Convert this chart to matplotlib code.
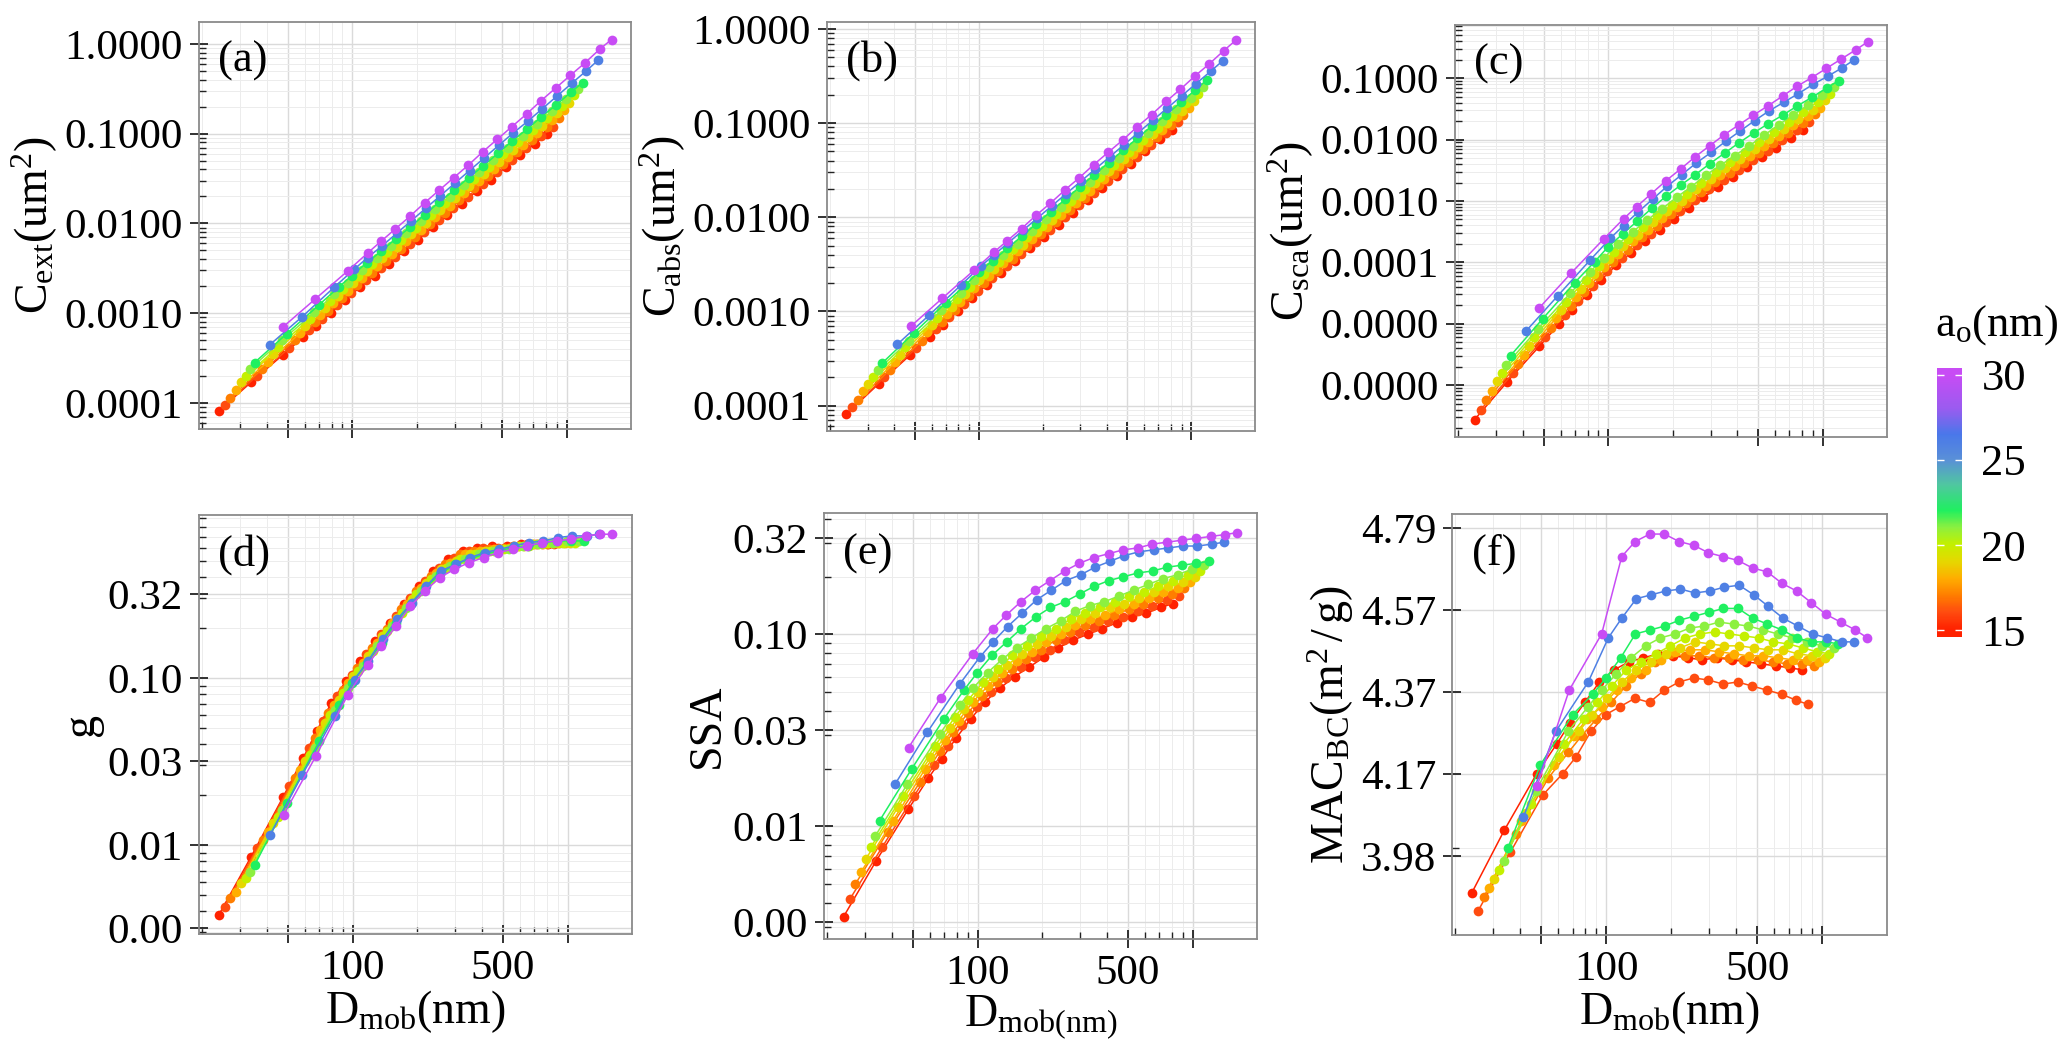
import numpy as np
import matplotlib
matplotlib.use('Agg')
import matplotlib.pyplot as plt
from matplotlib.colors import LinearSegmentedColormap
from matplotlib.ticker import FixedLocator, FixedFormatter, NullFormatter, LogLocator

plt.rcParams['font.family'] = ['Liberation Serif', 'DejaVu Serif']
plt.rcParams['mathtext.fontset'] = 'custom'
plt.rcParams['mathtext.rm'] = 'Liberation Serif'
plt.rcParams['mathtext.it'] = 'Liberation Serif:italic'
plt.rcParams['mathtext.bf'] = 'Liberation Serif:bold'

# monomer radius of each curve (nm)
a_o = [15, 16, 17, 18, 19, 20, 21, 22, 26, 30]

# mobility diameter of every point, one row per a_o (nm)
d_mob = [
    [23.8, 33.7, 47.6, 58.9, 67.9, 79.5, 92.9, 108.7, 127.1, 148.6, 173.9, 203.3, 237.8, 278.0, 325.2, 380.3, 444.8, 520.1, 608.3, 711.3, 809.3],
    [25.4, 35.9, 50.7, 62.8, 72.5, 84.8, 99.1, 115.9, 135.6, 158.5, 185.4, 216.8, 253.6, 296.5, 346.9, 405.6, 474.4, 554.7, 648.8, 758.7, 863.2],
    [27.0, 38.1, 53.9, 66.7, 77.0, 90.0, 105.3, 123.1, 144.0, 168.4, 197.0, 230.4, 269.5, 315.0, 368.6, 431.0, 504.1, 589.4, 689.4, 806.1, 917.2],
    [28.6, 40.4, 57.1, 70.7, 81.5, 95.3, 111.5, 130.4, 152.5, 178.3, 208.6, 243.9, 285.3, 333.5, 390.2, 456.3, 533.7, 624.1, 729.9, 853.6, 971.1],
    [30.2, 42.6, 60.2, 74.6, 86.1, 100.6, 117.7, 137.6, 161.0, 188.3, 220.2, 257.5, 301.2, 352.1, 411.9, 481.7, 563.4, 658.7, 770.5, 901.0, 1025.1],
    [31.8, 44.9, 63.4, 78.5, 90.6, 105.9, 123.9, 144.9, 169.4, 198.2, 231.8, 271.0, 317.0, 370.6, 433.6, 507.0, 593.0, 693.4, 811.0, 948.4, 1079.0],
    [33.4, 47.1, 66.6, 82.4, 95.1, 111.2, 130.1, 152.1, 177.9, 208.1, 243.4, 284.6, 332.9, 389.1, 455.3, 532.4, 622.7, 728.1, 851.6, 995.8, 1133.0],
    [35.0, 49.4, 69.7, 86.4, 99.6, 116.5, 136.3, 159.4, 186.4, 218.0, 255.0, 298.1, 348.7, 407.7, 477.0, 557.7, 652.3, 762.7, 892.1, 1043.0, 1187.0],
    [41.3, 58.3, 82.4, 102.1, 117.8, 137.7, 161.0, 188.3, 220.3, 257.6, 301.3, 352.3, 412.1, 481.8, 563.7, 659.1, 770.9, 901.4, 1054.0, 1233.0, 1403.0],
    [47.7, 67.3, 95.1, 117.8, 135.9, 158.9, 185.8, 217.3, 254.2, 297.2, 347.7, 406.5, 475.5, 555.9, 650.4, 760.5, 889.5, 1040.0, 1217.0, 1423.0, 1619.0],
]

# log10 of C_ext (um^2)
log_cext = [
    [-4.09, -3.77, -3.46, -3.27, -3.14, -3.00, -2.85, -2.71, -2.58, -2.45, -2.31, -2.18, -2.04, -1.91, -1.78, -1.64, -1.51, -1.37, -1.24, -1.11, -1.00],
    [-4.02, -3.70, -3.39, -3.19, -3.06, -2.91, -2.77, -2.63, -2.50, -2.37, -2.23, -2.10, -1.96, -1.83, -1.70, -1.56, -1.43, -1.29, -1.16, -1.03, -0.92],
    [-3.94, -3.62, -3.30, -3.10, -2.97, -2.83, -2.69, -2.55, -2.42, -2.28, -2.15, -2.01, -1.88, -1.74, -1.61, -1.47, -1.34, -1.20, -1.07, -0.93, -0.82],
    [-3.85, -3.54, -3.22, -3.02, -2.89, -2.75, -2.61, -2.47, -2.34, -2.20, -2.07, -1.93, -1.80, -1.66, -1.53, -1.39, -1.26, -1.12, -0.99, -0.85, -0.74],
    [-3.77, -3.45, -3.14, -2.94, -2.81, -2.66, -2.53, -2.39, -2.26, -2.12, -1.99, -1.85, -1.72, -1.58, -1.45, -1.31, -1.18, -1.04, -0.91, -0.77, -0.66],
    [-3.70, -3.38, -3.06, -2.86, -2.73, -2.59, -2.45, -2.32, -2.18, -2.05, -1.91, -1.77, -1.64, -1.50, -1.37, -1.23, -1.09, -0.96, -0.82, -0.69, -0.57],
    [-3.62, -3.30, -2.99, -2.79, -2.66, -2.52, -2.38, -2.25, -2.11, -1.97, -1.84, -1.70, -1.57, -1.43, -1.29, -1.16, -1.02, -0.89, -0.75, -0.61, -0.50],
    [-3.55, -3.23, -2.91, -2.71, -2.58, -2.44, -2.31, -2.17, -2.04, -1.90, -1.76, -1.63, -1.49, -1.36, -1.22, -1.08, -0.95, -0.81, -0.68, -0.54, -0.43],
    [-3.35, -3.04, -2.71, -2.51, -2.38, -2.25, -2.11, -1.97, -1.83, -1.69, -1.55, -1.41, -1.27, -1.13, -0.99, -0.86, -0.72, -0.58, -0.44, -0.30, -0.18],
    [-3.15, -2.84, -2.53, -2.33, -2.20, -2.06, -1.92, -1.77, -1.63, -1.49, -1.35, -1.20, -1.06, -0.92, -0.78, -0.63, -0.49, -0.35, -0.21, -0.06, 0.05],
]

# log10 of C_abs (um^2)
log_cabs = [
    [-4.09, -3.77, -3.46, -3.27, -3.14, -3.00, -2.86, -2.72, -2.59, -2.46, -2.33, -2.21, -2.08, -1.95, -1.82, -1.69, -1.56, -1.43, -1.30, -1.17, -1.07],
    [-4.02, -3.70, -3.39, -3.19, -3.06, -2.92, -2.78, -2.65, -2.52, -2.39, -2.26, -2.13, -2.00, -1.87, -1.74, -1.61, -1.49, -1.36, -1.23, -1.10, -0.99],
    [-3.94, -3.62, -3.31, -3.11, -2.98, -2.84, -2.70, -2.57, -2.44, -2.31, -2.18, -2.05, -1.92, -1.79, -1.66, -1.54, -1.41, -1.28, -1.15, -1.02, -0.91],
    [-3.85, -3.54, -3.22, -3.03, -2.90, -2.75, -2.62, -2.49, -2.36, -2.23, -2.10, -1.98, -1.85, -1.72, -1.59, -1.46, -1.33, -1.20, -1.07, -0.94, -0.84],
    [-3.77, -3.46, -3.14, -2.95, -2.82, -2.67, -2.55, -2.42, -2.29, -2.16, -2.03, -1.90, -1.77, -1.64, -1.51, -1.38, -1.25, -1.12, -1.00, -0.87, -0.76],
    [-3.70, -3.38, -3.07, -2.87, -2.74, -2.60, -2.47, -2.34, -2.21, -2.09, -1.96, -1.83, -1.70, -1.57, -1.44, -1.31, -1.18, -1.05, -0.92, -0.79, -0.69],
    [-3.62, -3.31, -2.99, -2.80, -2.67, -2.53, -2.40, -2.28, -2.15, -2.02, -1.89, -1.76, -1.63, -1.50, -1.37, -1.24, -1.11, -0.98, -0.85, -0.73, -0.62],
    [-3.55, -3.23, -2.91, -2.72, -2.58, -2.46, -2.33, -2.20, -2.07, -1.94, -1.81, -1.68, -1.55, -1.42, -1.29, -1.16, -1.03, -0.91, -0.78, -0.65, -0.54],
    [-3.35, -3.04, -2.72, -2.52, -2.40, -2.27, -2.14, -2.01, -1.88, -1.75, -1.62, -1.49, -1.36, -1.23, -1.10, -0.97, -0.84, -0.71, -0.58, -0.45, -0.34],
    [-3.16, -2.86, -2.56, -2.37, -2.25, -2.12, -1.98, -1.85, -1.71, -1.58, -1.44, -1.31, -1.18, -1.04, -0.91, -0.77, -0.64, -0.50, -0.37, -0.23, -0.12],
]

# log10 of C_sca (um^2)
log_csca = [
    [-6.56, -5.95, -5.37, -5.01, -4.78, -4.53, -4.28, -4.05, -3.85, -3.65, -3.47, -3.30, -3.11, -2.94, -2.78, -2.61, -2.45, -2.28, -2.13, -1.97, -1.84],
    [-6.40, -5.81, -5.22, -4.86, -4.63, -4.38, -4.14, -3.93, -3.72, -3.53, -3.35, -3.17, -2.99, -2.81, -2.65, -2.49, -2.34, -2.18, -2.01, -1.85, -1.72],
    [-6.24, -5.65, -5.07, -4.71, -4.48, -4.23, -4.00, -3.80, -3.59, -3.41, -3.22, -3.04, -2.86, -2.69, -2.54, -2.38, -2.22, -2.05, -1.89, -1.73, -1.59],
    [-6.09, -5.51, -4.91, -4.57, -4.34, -4.08, -3.87, -3.66, -3.47, -3.28, -3.10, -2.93, -2.75, -2.58, -2.43, -2.27, -2.10, -1.94, -1.77, -1.62, -1.48],
    [-5.94, -5.36, -4.77, -4.43, -4.19, -3.95, -3.74, -3.55, -3.35, -3.17, -3.00, -2.81, -2.64, -2.47, -2.31, -2.15, -1.99, -1.82, -1.67, -1.51, -1.36],
    [-5.81, -5.21, -4.64, -4.28, -4.06, -3.83, -3.62, -3.42, -3.23, -3.06, -2.88, -2.70, -2.53, -2.37, -2.20, -2.04, -1.88, -1.72, -1.55, -1.38, -1.26],
    [-5.67, -5.08, -4.50, -4.15, -3.93, -3.70, -3.50, -3.31, -3.13, -2.94, -2.77, -2.58, -2.42, -2.26, -2.10, -1.93, -1.76, -1.60, -1.44, -1.28, -1.15],
    [-5.52, -4.92, -4.33, -3.99, -3.75, -3.54, -3.33, -3.12, -2.92, -2.74, -2.57, -2.39, -2.22, -2.05, -1.89, -1.74, -1.60, -1.45, -1.31, -1.16, -1.04],
    [-5.12, -4.54, -3.96, -3.61, -3.40, -3.18, -2.97, -2.76, -2.57, -2.38, -2.21, -2.03, -1.86, -1.69, -1.53, -1.39, -1.25, -1.10, -0.97, -0.83, -0.70],
    [-4.74, -4.17, -3.62, -3.29, -3.09, -2.88, -2.67, -2.48, -2.28, -2.10, -1.92, -1.76, -1.60, -1.45, -1.29, -1.13, -0.99, -0.84, -0.69, -0.54, -0.41],
]

# log10 of asymmetry parameter g
log_g = [
    [-2.42, -2.07, -1.71, -1.48, -1.32, -1.15, -1.02, -0.90, -0.78, -0.67, -0.56, -0.45, -0.36, -0.29, -0.24, -0.22, -0.21, -0.21, -0.20, -0.20, -0.20],
    [-2.37, -2.02, -1.65, -1.42, -1.26, -1.11, -0.98, -0.86, -0.74, -0.63, -0.52, -0.42, -0.34, -0.28, -0.24, -0.22, -0.22, -0.21, -0.20, -0.20, -0.20],
    [-2.32, -1.97, -1.60, -1.36, -1.21, -1.07, -0.94, -0.82, -0.71, -0.59, -0.48, -0.39, -0.32, -0.26, -0.24, -0.23, -0.22, -0.21, -0.20, -0.20, -0.19],
    [-2.28, -1.92, -1.55, -1.31, -1.16, -1.03, -0.91, -0.79, -0.67, -0.56, -0.46, -0.37, -0.31, -0.26, -0.24, -0.23, -0.22, -0.21, -0.20, -0.19, -0.19],
    [-2.23, -1.87, -1.50, -1.27, -1.13, -0.99, -0.87, -0.75, -0.64, -0.53, -0.43, -0.35, -0.30, -0.26, -0.24, -0.23, -0.21, -0.21, -0.20, -0.19, -0.19],
    [-2.20, -1.83, -1.46, -1.22, -1.09, -0.96, -0.84, -0.72, -0.61, -0.50, -0.41, -0.34, -0.29, -0.26, -0.24, -0.23, -0.21, -0.20, -0.19, -0.19, -0.19],
    [-2.16, -1.79, -1.42, -1.19, -1.06, -0.93, -0.81, -0.69, -0.58, -0.48, -0.39, -0.33, -0.29, -0.26, -0.24, -0.23, -0.21, -0.20, -0.19, -0.18, -0.18],
    [-2.12, -1.75, -1.38, -1.16, -1.03, -0.91, -0.79, -0.67, -0.56, -0.46, -0.38, -0.32, -0.29, -0.26, -0.24, -0.22, -0.21, -0.19, -0.18, -0.18, -0.18],
    [-1.94, -1.58, -1.23, -1.01, -0.90, -0.77, -0.65, -0.55, -0.45, -0.36, -0.32, -0.28, -0.25, -0.23, -0.21, -0.19, -0.18, -0.16, -0.15, -0.15, -0.14],
    [-1.82, -1.47, -1.10, -0.92, -0.81, -0.69, -0.57, -0.48, -0.40, -0.35, -0.31, -0.28, -0.25, -0.23, -0.21, -0.19, -0.18, -0.17, -0.15, -0.14, -0.14],
]

# log10 of single scattering albedo
log_ssa = [
    [-2.47, -2.18, -1.91, -1.75, -1.65, -1.54, -1.44, -1.35, -1.28, -1.22, -1.17, -1.12, -1.07, -1.03, -1.00, -0.97, -0.94, -0.91, -0.89, -0.86, -0.84],
    [-2.38, -2.11, -1.84, -1.68, -1.58, -1.47, -1.38, -1.30, -1.23, -1.17, -1.12, -1.08, -1.03, -0.99, -0.96, -0.93, -0.91, -0.88, -0.85, -0.82, -0.80],
    [-2.30, -2.03, -1.77, -1.61, -1.51, -1.41, -1.32, -1.25, -1.18, -1.13, -1.08, -1.03, -0.99, -0.95, -0.93, -0.90, -0.87, -0.84, -0.81, -0.79, -0.76],
    [-2.24, -1.97, -1.70, -1.55, -1.45, -1.35, -1.27, -1.20, -1.14, -1.09, -1.04, -1.00, -0.95, -0.92, -0.90, -0.87, -0.84, -0.81, -0.78, -0.76, -0.73],
    [-2.17, -1.90, -1.64, -1.49, -1.39, -1.30, -1.22, -1.16, -1.10, -1.05, -1.01, -0.96, -0.92, -0.89, -0.86, -0.84, -0.81, -0.78, -0.75, -0.73, -0.70],
    [-2.11, -1.84, -1.58, -1.43, -1.34, -1.25, -1.18, -1.11, -1.06, -1.01, -0.97, -0.92, -0.89, -0.86, -0.83, -0.80, -0.78, -0.75, -0.72, -0.69, -0.67],
    [-2.05, -1.78, -1.52, -1.37, -1.28, -1.20, -1.13, -1.07, -1.02, -0.97, -0.93, -0.88, -0.85, -0.83, -0.80, -0.77, -0.74, -0.71, -0.69, -0.66, -0.64],
    [-1.97, -1.70, -1.44, -1.29, -1.20, -1.11, -1.04, -0.97, -0.91, -0.86, -0.83, -0.79, -0.75, -0.72, -0.70, -0.68, -0.67, -0.65, -0.64, -0.63, -0.62],
    [-1.78, -1.51, -1.26, -1.12, -1.04, -0.96, -0.89, -0.82, -0.77, -0.72, -0.69, -0.65, -0.62, -0.59, -0.57, -0.56, -0.55, -0.54, -0.54, -0.53, -0.52],
    [-1.59, -1.33, -1.10, -0.97, -0.90, -0.83, -0.77, -0.72, -0.67, -0.63, -0.60, -0.58, -0.56, -0.55, -0.53, -0.52, -0.51, -0.50, -0.49, -0.48, -0.47],
]

# mass absorption cross section of BC (m^2/g)
mac_bc = [
    [3.90, 4.04, 4.17, 4.24, 4.29, 4.34, 4.39, 4.42, 4.44, 4.45, 4.46, 4.455, 4.45, 4.445, 4.45, 4.445, 4.44, 4.435, 4.43, 4.425, 4.42],
    [3.86, 3.99, 4.12, 4.17, 4.21, 4.27, 4.31, 4.33, 4.35, 4.34, 4.37, 4.39, 4.40, 4.395, 4.385, 4.39, 4.38, 4.37, 4.36, 4.345, 4.335],
    [3.89, 4.03, 4.16, 4.22, 4.26, 4.30, 4.34, 4.38, 4.41, 4.44, 4.46, 4.455, 4.455, 4.45, 4.45, 4.445, 4.445, 4.44, 4.435, 4.435, 4.43],
    [3.91, 4.06, 4.19, 4.26, 4.30, 4.33, 4.37, 4.40, 4.42, 4.445, 4.465, 4.47, 4.47, 4.465, 4.46, 4.455, 4.455, 4.45, 4.445, 4.445, 4.44],
    [3.93, 4.08, 4.21, 4.27, 4.31, 4.35, 4.39, 4.42, 4.44, 4.46, 4.475, 4.49, 4.485, 4.48, 4.48, 4.475, 4.47, 4.47, 4.46, 4.455, 4.45],
    [3.95, 4.10, 4.24, 4.30, 4.34, 4.38, 4.42, 4.44, 4.46, 4.48, 4.50, 4.51, 4.515, 4.51, 4.505, 4.50, 4.49, 4.485, 4.475, 4.465, 4.46],
    [3.97, 4.13, 4.27, 4.33, 4.37, 4.41, 4.45, 4.48, 4.50, 4.51, 4.525, 4.53, 4.54, 4.535, 4.53, 4.52, 4.51, 4.50, 4.49, 4.48, 4.475],
    [4.00, 4.19, 4.31, 4.36, 4.40, 4.45, 4.51, 4.52, 4.53, 4.545, 4.555, 4.565, 4.575, 4.575, 4.55, 4.535, 4.52, 4.50, 4.49, 4.49, 4.485],
    [4.07, 4.27, 4.39, 4.50, 4.55, 4.60, 4.61, 4.62, 4.625, 4.615, 4.62, 4.63, 4.635, 4.61, 4.58, 4.55, 4.53, 4.51, 4.50, 4.49, 4.49],
    [4.14, 4.37, 4.51, 4.71, 4.75, 4.77, 4.77, 4.75, 4.74, 4.72, 4.71, 4.70, 4.68, 4.67, 4.64, 4.62, 4.59, 4.56, 4.54, 4.52, 4.50],
]

# colour scale of the a_o legend
scale_nodes = [15, 16, 17, 18, 19, 20, 21, 22, 23.5, 25, 26.5, 28, 30]
scale_colors = ['#ff2200', '#ff4c10', '#ff7e00', '#ffae00', '#e6d800', '#c4f000', '#8cf040',
                '#20f060', '#50c8a0', '#5a90d8', '#4a78ea', '#9a5cf0', '#c84cf5']
cmap = LinearSegmentedColormap.from_list(
    'ao', [((v - 15) / 15, c) for v, c in zip(scale_nodes, scale_colors)])

W, H = 2067, 1047
fig = plt.figure(figsize=(W / 100, H / 100), dpi=100)


def rect(x0, x1, y0, y1):
    return [x0 / W, 1 - y1 / H, (x1 - x0) / W, (y1 - y0) / H]


dec4 = [1e-6, 1e-5, 1e-4, 1e-3, 1e-2, 1e-1, 1.0]
half = [10 ** -2.5, 10 ** -2, 10 ** -1.5, 10 ** -1, 10 ** -0.5]
mac_ticks = [10 ** 0.60, 10 ** 0.62, 10 ** 0.64, 10 ** 0.66, 10 ** 0.68]

panels = [
    dict(pos=rect(199, 631, 22, 429), vals=log_cext, log=True, ylim=(10 ** -4.29, 10 ** 0.245),
         ticks=dec4, fmt='%.4f', ylabel=r'$\mathrm{C_{ext}(um^2)}$', tag='(a)', bottom=False),
    dict(pos=rect(827, 1255, 22, 431), vals=log_cabs, log=True, ylim=(10 ** -4.27, 10 ** 0.074),
         ticks=dec4, fmt='%.4f', ylabel=r'$\mathrm{C_{abs}(um^2)}$', tag='(b)', bottom=False),
    dict(pos=rect(1455, 1887, 25, 437), vals=log_csca, log=True, ylim=(10 ** -6.845, 10 ** -0.133),
         ticks=dec4, fmt='%.4f', ylabel=r'$\mathrm{C_{sca}(um^2)}$', tag='(c)', bottom=False),
    dict(pos=rect(199, 632, 515, 934), vals=log_g, log=True, ylim=(10 ** -2.533, 10 ** -0.025),
         ticks=half, fmt='%.2f', ylabel='g', tag='(d)', bottom=True,
         xlabel=r'$\mathrm{D_{mob}(nm)}$'),
    dict(pos=rect(824, 1257, 513, 939), vals=log_ssa, log=True, ylim=(10 ** -2.587, 10 ** -0.368),
         ticks=half, fmt='%.2f', ylabel='SSA', tag='(e)', bottom=True,
         xlabel=r'$\mathrm{D_{mob(nm)}}$'),
    dict(pos=rect(1452, 1887, 514, 935), vals=mac_bc, log=False, ylim=(3.809, 4.824),
         ticks=mac_ticks, fmt='%.2f', ylabel=r'$\mathrm{MAC_{BC}(m^2\,/\,g)}$', tag='(f)',
         bottom=True, xlabel=r'$\mathrm{D_{mob}(nm)}$'),
]

for p in panels:
    ax = fig.add_axes(p['pos'])
    ax.set_xscale('log')
    ax.set_yscale('log')
    ax.set_axisbelow(True)
    for i, a in enumerate(a_o):
        c = cmap((a - 15) / 15)
        y = 10 ** np.array(p['vals'][i]) if p['log'] else np.array(p['vals'][i])
        ax.plot(d_mob[i], y, '-o', color=c, lw=1.1, ms=7.0, mew=0, zorder=3)

    ax.set_xlim(10 ** 1.285, 10 ** 3.30)
    ax.set_ylim(*p['ylim'])

    ax.xaxis.set_major_locator(FixedLocator([50, 100, 500, 1000]))
    ax.xaxis.set_minor_locator(FixedLocator([20, 30, 40, 60, 70, 80, 90, 200, 300, 400,
                                             600, 700, 800, 900]))
    ax.xaxis.set_minor_formatter(NullFormatter())
    if p['bottom']:
        ax.xaxis.set_major_formatter(FixedFormatter(['', '100', '500', '']))
        ax.set_xlabel(p['xlabel'], fontsize=33, labelpad=0)
    else:
        ax.xaxis.set_major_formatter(NullFormatter())

    ticks = [t for t in p['ticks'] if p['ylim'][0] <= t <= p['ylim'][1]]
    ax.yaxis.set_major_locator(FixedLocator(ticks))
    ax.yaxis.set_major_formatter(FixedFormatter([p['fmt'] % t for t in ticks]))
    if p['log']:
        ax.yaxis.set_minor_locator(LogLocator(base=10, subs=np.arange(2, 10), numticks=60))
    else:
        ax.yaxis.set_minor_locator(FixedLocator([4.0]))
    ax.yaxis.set_minor_formatter(NullFormatter())

    ax.grid(which='major', color='#dadada', lw=1.0)
    ax.grid(which='minor', color='#ececec', lw=0.7)
    ax.tick_params(which='major', direction='inout', length=13, width=1.3, color='#222222',
                   labelsize=31, pad=5, top=False, right=False)
    ax.tick_params(which='minor', direction='in', length=5, width=1.0, color='#222222',
                   top=False, right=False)
    for s in ax.spines.values():
        s.set_color('#8a8a8a')
        s.set_linewidth(1.3)

    ax.set_ylabel(p['ylabel'], fontsize=33, labelpad=3)
    ax.text(0.045, 0.905, p['tag'], transform=ax.transAxes, fontsize=32,
            ha='left', va='center', zorder=5)

# colour bar for a_o
lo, hi = 14.59, 30.41
cax = fig.add_axes(rect(1937, 1962, 368, 637))
grad = np.linspace(lo, hi, 300).reshape(-1, 1)
cax.imshow(grad, aspect='auto', cmap=cmap, origin='lower', extent=(0, 1, lo, hi),
           vmin=15, vmax=30)
cax.set_xlim(0, 1)
cax.set_ylim(lo, hi)
cax.set_xticks([])
cax.yaxis.tick_right()
cax.set_yticks([15, 20, 25, 30])
cax.tick_params(axis='y', direction='in', length=5, width=1, color='white',
                labelsize=32, pad=14, left=True, right=True)
for s in cax.spines.values():
    s.set_visible(False)
fig.text(1935 / W, 1 - 325 / H, r'$\mathrm{a_o(nm)}$', fontsize=32, ha='left', va='center')

fig.savefig('out.png', dpi=100)
